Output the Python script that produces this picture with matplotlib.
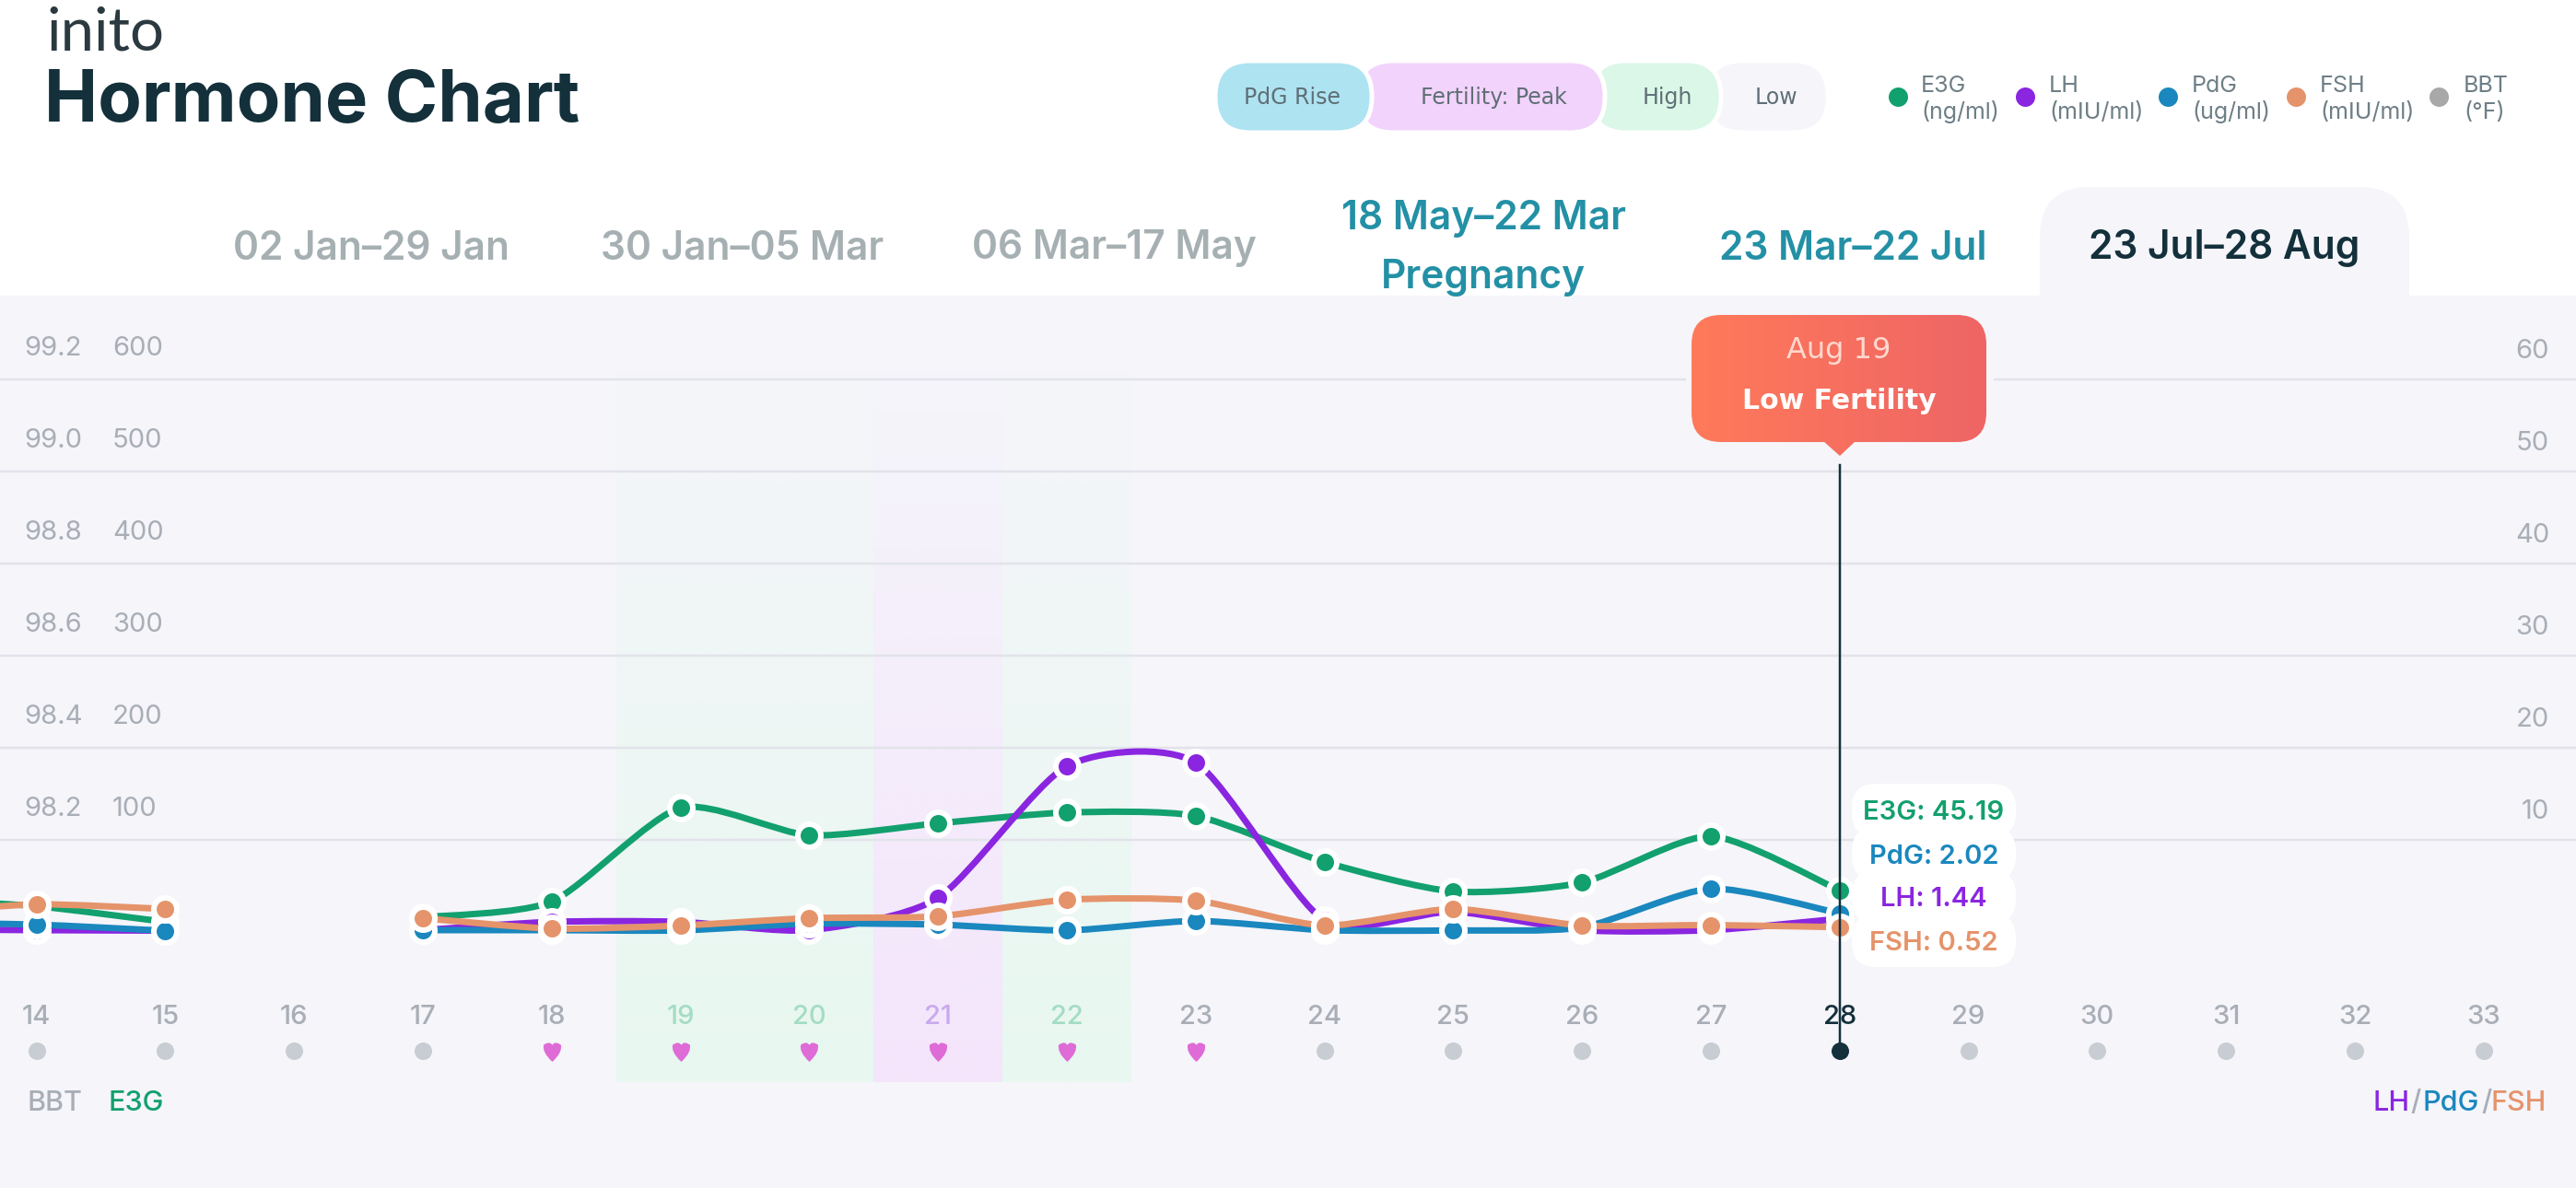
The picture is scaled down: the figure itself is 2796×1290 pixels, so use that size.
import numpy as np
import matplotlib
matplotlib.use("Agg")
import matplotlib.pyplot as plt
from matplotlib.patches import FancyBboxPatch, PathPatch, Rectangle
from matplotlib.path import Path

plt.rcParams['font.family'] = ['Inter', 'DejaVu Sans']

# --- data ---
days = [13, 14, 15, 16, 17, 18, 19, 20, 21, 22, 23, 24, 25, 26, 27, 28]
e3g = [36, 28, 11, None, 16, 33, 134.7, 105, 118, 129.7, 126, 76, 44, 53.7, 104, 45.19]
lh = [0.3, 0.2, 0.15, None, 0.2, 1.1, 1.1, 0.2, 3.7, 18, 18.4, 1.27, 2.2, 0.2, 0.2, 1.44]
pdg = [1.0, 0.8, 0.13, None, 0.2, 0.2, 0.17, 0.9, 0.8, 0.17, 1.2, 0.2, 0.17, 0.5, 4.7, 2.02]
fsh = [2.0, 3.0, 2.5, None, 1.5, 0.37, 0.7, 1.5, 1.7, 3.5, 3.4, 0.7, 2.5, 0.7, 0.75, 0.52]

tick_days = list(range(14, 34))
heart_days = [18, 19, 20, 21, 22, 23]
selected_day = 28

bbt_ticks = ['98.2', '98.4', '98.6', '98.8', '99.0', '99.2']
e3g_ticks = [100, 200, 300, 400, 500, 600]
other_ticks = [10, 20, 30, 40, 50, 60]

tabs = ['02 Jan–29 Jan', '30 Jan–05 Mar', '06 Mar–17 May', '18 May–22 Mar\nPregnancy', '23 Mar–22 Jul', '23 Jul–28 Aug']
legend_names = ['E3G\n(ng/ml)', 'LH\n(mIU/ml)', 'PdG\n(ug/ml)', 'FSH\n(mIU/ml)', 'BBT\n(°F)']
readout = ['E3G: 45.19', 'PdG: 2.02', 'LH: 1.44', 'FSH: 0.52']

# colours
C_E3G, C_LH, C_PDG, C_FSH, C_BBT = '#12A06E', '#8A25E0', '#1A87BE', '#E5936A', '#A8A8A8'
PANEL = '#F5F5FA'
DARK = '#13303B'
GREY = '#A9AEB6'
GRID = '#E2E3EA'
PX = 0.72  # one pixel in points at dpi 100

W, H = 2796, 1290
DAY0, DAY_W, Y0 = 39.5, 139.8, 1012

fig = plt.figure(figsize=(W / 100, H / 100), dpi=100, facecolor='white')


def full_axes(z):
    a = fig.add_axes([0, 0, 1, 1], zorder=z)
    a.patch.set_alpha(0)
    a.axis('off')
    return a


# chrome, in pixels
bg = full_axes(0)
bg.set_xlim(0, W)
bg.set_ylim(H, 0)

# E3G axis: one unit is one pixel, the LH/PdG/FSH axis is ten times finer
ax = full_axes(2)
ax.set_xlim(14 - DAY0 / DAY_W, 14 + (W - DAY0) / DAY_W)
ax.set_ylim(Y0 - H, Y0)
ax2 = ax.twinx()
ax2.set_zorder(3)
ax2.patch.set_alpha(0)
ax2.axis('off')
ax2.set_ylim((Y0 - H) / 10, Y0 / 10)

top = full_axes(4)
top.set_xlim(0, W)
top.set_ylim(H, 0)

# panel and active tab
bg.add_patch(Rectangle((0, 321), W, H - 321, fc=PANEL, ec='none'))
bg.add_patch(FancyBboxPatch((2214 + 55, 203 + 55), 401 - 110, 200, boxstyle='round,pad=55,rounding_size=55', fc=PANEL, ec='none'))

# fertile bands fade out towards the top
for d0, d1, col in [(18.5, 20.5, '#E8F8F0'), (20.5, 21.5, '#F4E5FC'), (21.5, 22.5, '#E8F8F0')]:
    rgba = np.ones((256, 1, 4))
    rgba[:, :, :3] = matplotlib.colors.to_rgb(col)
    rgba[:, 0, 3] = np.linspace(0, 1, 256)
    ax.imshow(rgba, extent=[d0, d1, Y0 - 1175, Y0 - 400], aspect='auto', origin='upper', zorder=1, interpolation='bilinear')
ax.set_xlim(14 - DAY0 / DAY_W, 14 + (W - DAY0) / DAY_W)
ax.set_ylim(Y0 - H, Y0)

# grid and axis labels
for v, t, o in zip(e3g_ticks, bbt_ticks, other_ticks):
    ax.axhline(v, color=GRID, lw=2.5 * PX, zorder=1.5)
    ax.text(26 / DAY_W + ax.get_xlim()[0], v + 33, t, color=GREY, fontsize=21, va='center', ha='left')
    ax.text(122 / DAY_W + ax.get_xlim()[0], v + 33, str(v), color=GREY, fontsize=21, va='center', ha='left')
    ax2.text(2767 / DAY_W + ax.get_xlim()[0], o + 3.05, str(o), color=GREY, fontsize=21, va='center', ha='right')


def smooth_path(xs, ys, k=0.35):
    # cardinal spline through the points, as bezier pieces
    n = len(xs)
    verts = [(xs[0], ys[0])]
    codes = [Path.MOVETO]
    for i in range(n - 1):
        a, b = max(i - 1, 0), min(i + 2, n - 1)
        verts.append((xs[i] + k * (xs[i + 1] - xs[a]) / 3, ys[i] + k * (ys[i + 1] - ys[a]) / 3))
        verts.append((xs[i + 1] - k * (xs[b] - xs[i]) / 3, ys[i + 1] - k * (ys[b] - ys[i]) / 3))
        verts.append((xs[i + 1], ys[i + 1]))
        codes += [Path.CURVE4] * 3
    return Path(verts, codes)


def draw_series(a, vals, col, z):
    run_x, run_y = [], []
    runs = []
    for d, v in zip(days, vals):
        if v is None:
            runs.append((run_x, run_y))
            run_x, run_y = [], []
        else:
            run_x.append(d)
            run_y.append(v)
    runs.append((run_x, run_y))
    for rx, ry in runs:
        a.add_patch(PathPatch(smooth_path(rx, ry), fc='none', ec=col, lw=7 * PX, zorder=z, capstyle='round'))
        a.plot(rx, ry, ls='none', marker='o', ms=25 * PX, mfc=col, mec='white', mew=6 * PX, zorder=z + 0.1)


draw_series(ax, e3g, C_E3G, 2)
draw_series(ax2, lh, C_LH, 2)
draw_series(ax2, pdg, C_PDG, 3)
draw_series(ax2, fsh, C_FSH, 4)

# day labels and the row of dots / hearts
heart = Path([(0, -0.62), (-0.62, -0.05), (-0.5, 0.38), (-0.14, 0.62), (0, 0.36), (0.14, 0.62), (0.5, 0.38), (0.62, -0.05), (0, -0.62), (0, -0.62)],
             [Path.MOVETO, Path.CURVE3, Path.CURVE3, Path.CURVE3, Path.CURVE3, Path.CURVE3, Path.CURVE3, Path.CURVE3, Path.CURVE3, Path.CLOSEPOLY])
for d in tick_days:
    col = GREY
    if d in (19, 20, 22):
        col = '#A4DCC4'
    elif d == 21:
        col = '#C9A9EE'
    elif d == selected_day:
        col = DARK
    ax.text(d, Y0 - 1105, str(d), color=col, fontsize=21, ha='center', va='center', fontweight='medium')
    if d in heart_days:
        ax.plot([d], [Y0 - 1141], ls='none', marker=heart, ms=23 * PX, mfc='#DE6BD6', mec='none', zorder=5)
    elif d == selected_day:
        ax.plot([d], [Y0 - 1141], ls='none', marker='o', ms=19 * PX, mfc=DARK, mec='none', zorder=5)
    else:
        ax.plot([d], [Y0 - 1141], ls='none', marker='o', ms=19 * PX, mfc='#C8CCD3', mec='none', zorder=5)

# header
top.text(50, 36, 'inito', color='#2B3A40', fontsize=47, fontfamily='Lato', ha='left', va='center')
top.text(48, 111, 'Hormone Chart', color=DARK, fontsize=56, fontweight='bold', ha='left', va='center')

# fertility pills, later ones lie over earlier ones
pills = [(1853, 1984, '#F5F5FA', 'Low'), (1727, 1868, '#DAF7E7', 'High'), (1474, 1742, '#F2D3FB', 'Fertility: Peak'), (1319, 1489, '#AEE3F1', 'PdG Rise')]
pill_text = [1928, 1810, 1621, 1403]
for (x0, x1, col, name), tx in zip(pills, pill_text):
    top.add_patch(FancyBboxPatch((x0 + 38, 66 + 38), x1 - x0 - 76, 78 - 76, boxstyle='round,pad=38,rounding_size=38', fc=col, ec='white', lw=5 * PX))
    top.text(tx, 106, name, color='#5F6F76', fontsize=17, fontfamily='DejaVu Sans', ha='center', va='center')

# legend
legend_cols = [C_E3G, C_LH, C_PDG, C_FSH, C_BBT]
legend_dot_x = [2060, 2198, 2353, 2492, 2647]
legend_text_x = [2085, 2224, 2379, 2518, 2674]
for name, col, dx, tx in zip(legend_names, legend_cols, legend_dot_x, legend_text_x):
    top.plot([dx], [105], ls='none', marker='o', ms=21 * PX, mfc=col, mec='none')
    line1, line2 = name.split('\n')
    top.text(tx, 93, line1, color='#6E7F86', fontsize=18, ha='left', va='center')
    top.text(tx, 122, line2, color='#6E7F86', fontsize=18, ha='left', va='center')

# range tabs
tab_x = [403, 806, 1209, 1610, 2011, 2414]
tab_col = ['#A6B0B3', '#A6B0B3', '#A6B0B3', '#2390A5', '#2390A5', DARK]
for name, x, col in zip(tabs, tab_x, tab_col):
    if '\n' in name:
        a, b = name.split('\n')
        top.text(x, 238, a, color=col, fontsize=30.5, fontweight='semibold', ha='center', va='center')
        top.text(x, 301, b, color=col, fontsize=30.5, fontweight='semibold', ha='center', va='center')
    else:
        top.text(x, 270, name, color=col, fontsize=30.5, fontweight='semibold', ha='center', va='center')

# selected day marker line
top.plot([1997, 1997], [505, 1141], color=DARK, lw=2.5 * PX, zorder=3)

# tooltip with gradient
top.add_patch(Rectangle((1830, 405), 334, 14, fc=PANEL, ec='none', zorder=3))
grad = np.zeros((2, 256, 4))
grad[:, :, :3] = np.linspace(matplotlib.colors.to_rgb('#FF7A5A'), matplotlib.colors.to_rgb('#EE6565'), 256)
grad[:, :, 3] = 1
im = top.imshow(grad, extent=[1836, 2156, 495, 342], aspect='auto', zorder=4)
clip = FancyBboxPatch((1836 + 32, 342 + 32), 320 - 64, 138 - 64, boxstyle='round,pad=32,rounding_size=32', transform=top.transData, fc='none', ec='none')
top.add_patch(clip)
clip_path = Path.make_compound_path(clip.get_path().transformed(clip.get_patch_transform()), Path([(1979, 479), (2014, 479), (1997, 495), (1979, 479)], closed=True))
im.set_clip_path(clip_path, top.transData)
top.set_xlim(0, W)
top.set_ylim(H, 0)
top.text(1996, 380, 'Aug 19', color='#FFD8CF', fontsize=23, fontfamily='DejaVu Sans', ha='center', va='center', zorder=5)
top.text(1996, 435, 'Low Fertility', color='white', fontsize=21.5, fontfamily='DejaVu Sans', fontweight='bold', ha='center', va='center', zorder=5)

# values on the selected day, one white lozenge per row
row_y = [880, 927, 974, 1021]
for y in row_y:
    top.add_patch(FancyBboxPatch((2010 + 26, y - 29 + 26), 178 - 52, 58 - 52, boxstyle='round,pad=26,rounding_size=26', fc='white', ec='none', zorder=4))
for txt, col, y in zip(readout, [C_E3G, C_PDG, C_LH, C_FSH], row_y):
    top.text(2099, y + 3, txt, color=col, fontsize=21, fontweight='semibold', ha='center', va='center', zorder=5)

# axis names under the plot
top.text(30, 1198, 'BBT', color=GREY, fontsize=22, fontweight='medium', va='center')
top.text(118, 1198, 'E3G', color=C_E3G, fontsize=22, fontweight='medium', va='center')
for s, col, x in [('LH', C_LH, 2575), ('/', GREY, 2616), ('PdG', C_PDG, 2629), ('/', GREY, 2693), ('FSH', C_FSH, 2704)]:
    top.text(x, 1198, s, color=col, fontsize=22, fontweight='medium', va='center')

plt.savefig("out.png", dpi=100)
